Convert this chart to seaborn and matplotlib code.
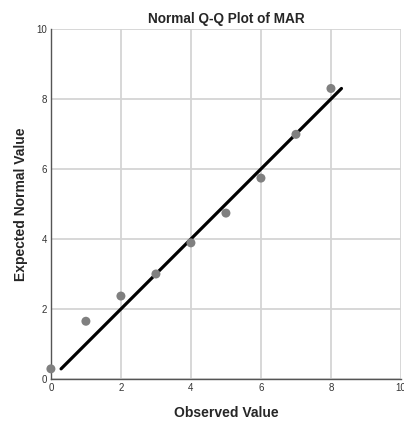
import matplotlib
matplotlib.use('Agg')
import matplotlib.pyplot as plt
import seaborn as sns
import pandas as pd

# observed vs expected normal values
observed = [0, 1, 2, 3, 4, 5, 6, 7, 8]
expected = [0.29, 1.65, 2.37, 3.0, 3.89, 4.74, 5.74, 6.99, 8.3]
ref_line = [0.29, 8.3]
ticks = [0, 2, 4, 6, 8, 10]

sns.set_style('white')
plt.rcParams['font.family'] = ['Liberation Sans', 'DejaVu Sans']

df = pd.DataFrame({'obs': observed, 'exp': expected})

fig = plt.figure(figsize=(4.04, 4.23), dpi=100)
ax = fig.add_axes([0.126, 0.104, 0.8665, 0.8275])

ax.grid(True, color='#d4d4d4', linewidth=1.3)
ax.set_axisbelow(True)
sns.lineplot(x=ref_line, y=ref_line, ax=ax, color='black', linewidth=2.3, zorder=2)
sns.scatterplot(data=df, x='obs', y='exp', ax=ax, color='#808080', s=42,
                edgecolor='none', zorder=3, clip_on=False)

ax.set_xlim(0, 10)
ax.set_ylim(0, 10)
ax.set_xticks(ticks)
ax.set_yticks(ticks)
ax.tick_params(length=0, labelsize=7, colors='#333333', pad=3)
for s in ['top', 'right']:
    ax.spines[s].set_visible(False)
for s in ['left', 'bottom']:
    ax.spines[s].set_color('#555555')
    ax.spines[s].set_linewidth(1.0)

ax.set_title('Normal Q-Q Plot of MAR', fontsize=9.8, fontweight='bold', pad=4)
ax.set_xlabel('Observed Value', fontsize=10, fontweight='bold', labelpad=9)
ax.set_ylabel('Expected Normal Value', fontsize=10, fontweight='bold', labelpad=6)

fig.savefig('out.png', dpi=100)
